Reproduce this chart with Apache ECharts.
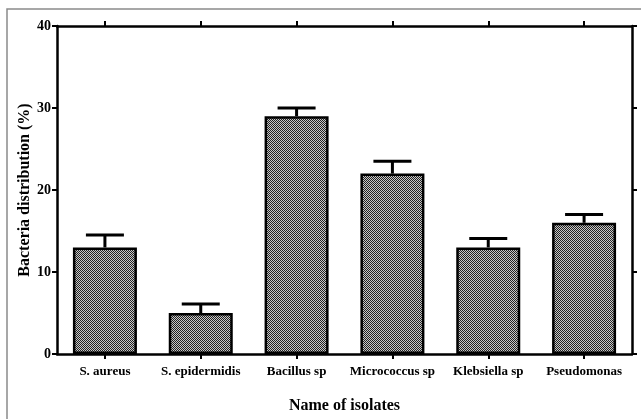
<!DOCTYPE html>
<html>
<head>
<meta charset="utf-8">
<script src="https://cdn.jsdelivr.net/npm/echarts@6/dist/echarts.min.js"></script>
<style>
  html, body { margin: 0; padding: 0; background: #fff; }
  #chart { width: 641px; height: 419px; }
</style>
</head>
<body>
<div id="chart"></div>
<script>
  // isolates and their distribution (%), with SEM
  var isolates = ['S. aureus', 'S. epidermidis', 'Bacillus sp', 'Micrococcus sp', 'Klebsiella sp', 'Pseudomonas'];
  var distribution = [13, 5, 29, 22, 13, 16];
  var errors = [1.5, 1.1, 1.0, 1.5, 1.1, 1.0];
  var yTicks = [0, 10, 20, 30, 40];

  var FONT = '"Liberation Serif", "DejaVu Serif", serif';

  // small checker tile for the dotted bar fill
  function makePattern(){
    var c = document.createElement('canvas');
    c.width = 2; c.height = 2;
    var ctx = c.getContext('2d');
    ctx.fillStyle = '#c8c8c8';
    ctx.fillRect(0, 0, 2, 2);
    ctx.fillStyle = '#222';
    ctx.fillRect(0, 0, 1, 1);
    ctx.fillRect(1, 1, 1, 1);
    return c;
  }

  var chart = echarts.init(document.getElementById('chart'), null, {renderer: 'canvas'});

  var axisLine = { show: true, onZero: false, lineStyle: { color: '#000', width: 2.5 } };
  var axisTick = { show: true, length: 5, lineStyle: { color: '#000', width: 2 } };

  var option = {
    animation: false,
    backgroundColor: '#fff',
    grid: { left: 57, right: 9, top: 26, bottom: 64 },
    graphic: [{
      type: 'rect',
      shape: { x: 7, y: 9, width: 650, height: 430 },
      style: { fill: 'none', stroke: '#8a8a8a', lineWidth: 1.5 },
      silent: true
    }],
    xAxis: [{
      type: 'category',
      data: isolates,
      position: 'bottom',
      axisLine: axisLine,
      axisTick: Object.assign({ alignWithLabel: true, interval: 0 }, axisTick),
      axisLabel: { interval: 0, color: '#000', fontFamily: FONT, fontWeight: 'bold', fontSize: 13, margin: 11 },
      name: 'Name of isolates',
      nameLocation: 'middle',
      nameGap: 44,
      nameMoveOverlap: false,
      nameTextStyle: { color: '#000', fontFamily: FONT, fontWeight: 'bold', fontSize: 16 }
    }, {
      type: 'category',
      data: isolates,
      position: 'top',
      axisLine: axisLine,
      axisTick: Object.assign({ alignWithLabel: true, interval: 0 }, axisTick),
      axisLabel: { show: true, interval: 0, formatter: function(){ return ''; } }
    }],
    yAxis: [{
      type: 'value',
      min: 0,
      max: 40,
      interval: 10,
      position: 'left',
      axisLine: axisLine,
      axisTick: axisTick,
      splitLine: { show: false },
      axisLabel: {
        color: '#000', fontFamily: FONT, fontWeight: 'bold', fontSize: 14, margin: 6,
        formatter: function(v){ return yTicks.indexOf(v) >= 0 ? String(v) : ''; }
      },
      name: 'Bacteria distribution (%)',
      nameLocation: 'middle',
      nameGap: 24,
      nameMoveOverlap: false,
      nameTextStyle: { color: '#000', fontFamily: FONT, fontWeight: 'bold', fontSize: 16 }
    }, {
      type: 'value',
      min: 0,
      max: 40,
      interval: 10,
      position: 'right',
      axisLine: axisLine,
      axisTick: axisTick,
      splitLine: { show: false },
      axisLabel: { show: false }
    }],
    series: [{
      type: 'bar',
      data: distribution,
      barWidth: 64,
      itemStyle: {
        color: { image: makePattern(), repeat: 'repeat' },
        borderColor: '#000',
        borderWidth: 2.5
      },
      z: 2
    }, {
      type: 'custom',
      z: 3,
      data: distribution.map(function(v, i){ return [i, v, v + errors[i]]; }),
      renderItem: function(params, api){
        var base = api.coord([api.value(0), api.value(1)]);
        var top = api.coord([api.value(0), api.value(2)]);
        var half = 19;
        var style = { stroke: '#000', lineWidth: 3 };
        return {
          type: 'group',
          children: [
            { type: 'line', shape: { x1: base[0], y1: base[1], x2: top[0], y2: top[1] }, style: style },
            { type: 'line', shape: { x1: top[0] - half, y1: top[1], x2: top[0] + half, y2: top[1] }, style: style }
          ]
        };
      }
    }]
  };

  chart.setOption(option);
</script>
</body>
</html>
